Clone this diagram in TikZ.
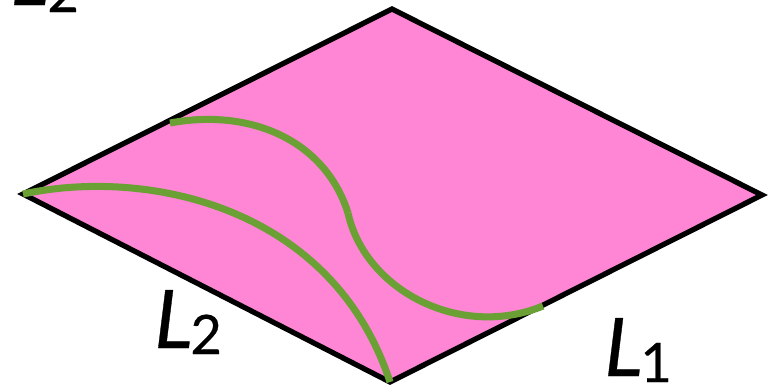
\documentclass[tikz,border=0pt]{standalone}
\usepackage{fontspec}
\setmainfont{Lato}
\newfontfamily\labelfont{Lato}[ItalicFeatures={FakeBold=0.4},UprightFeatures={FakeBold=0.4}]
\begin{document}
\begin{tikzpicture}[
    x=0.02cm, y=-0.02cm,
    edge/.style={draw=black, line width=3pt, line join=miter},
    curve/.style={draw=curvegreen, line width=4pt},
    label/.style={inner sep=0pt, anchor=base west, font=\fontsize{46}{46}\selectfont\labelfont\itshape},
    subscript/.style={inner sep=0pt, anchor=base west, font=\fontsize{31}{31}\selectfont\labelfont}
]
\definecolor{curvegreen}{HTML}{6BA034}
\definecolor{sheetpink}{HTML}{FF85D5}

\useasboundingbox (0,0) rectangle (776,387);
\clip (0,0) rectangle (776,387);

\coordinate (top) at (392,9);
\coordinate (right) at (762,195);
\coordinate (bottom) at (390,382);
\coordinate (left) at (23,194);
\coordinate (upperstart) at (170,123);
\coordinate (kink) at (348,213);
\coordinate (upperend) at (543,306);

\fill[sheetpink] (top) -- (right) -- (bottom) -- (left) -- cycle;
\draw[edge] (top) -- (right) -- (bottom) -- (left) -- cycle;

\draw[curve] (left) .. controls (150,167) and (333,208) .. (bottom);
\draw[curve] (upperstart) .. controls (250,108) and (325,140) .. (kink);
\draw[curve] (kink) .. controls (365,290) and (460,340) .. (upperend);

\node[label] (lowerL) at (154,348) {L};
\node[subscript] (lowerSub) at (190,354) {2};
\node[label] (rightL) at (604,376) {L};
\node[subscript] (rightSub) at (640,382) {1};
\node[label] (topL) at (10,5) {L};
\node[subscript] (topSub) at (47,12) {2};

\end{tikzpicture}
\end{document}
